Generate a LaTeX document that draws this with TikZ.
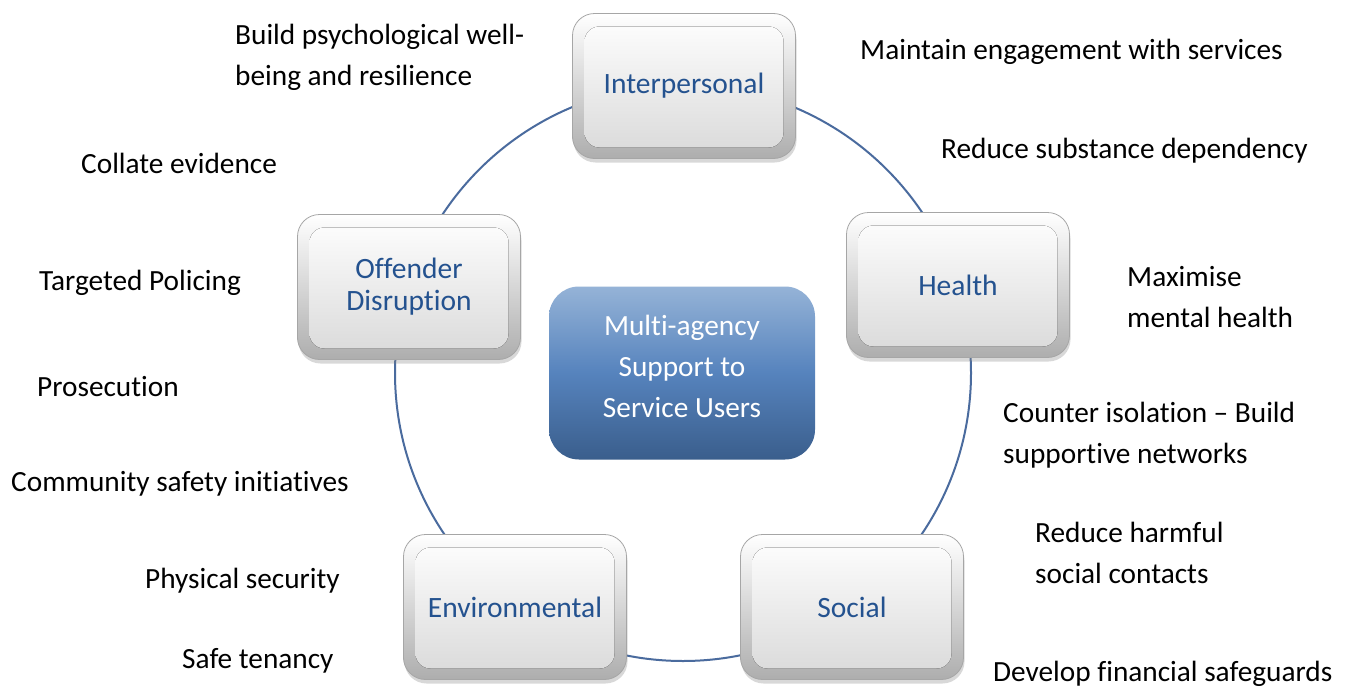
\documentclass[tikz,border=0pt]{standalone}
\usepackage{fontspec}
\setmainfont{Carlito}[Ligatures=NoCommon]
\usetikzlibrary{shadows}
\definecolor{ringc}{HTML}{4A6B9E}
\definecolor{boxtxt}{HTML}{24528F}
\definecolor{ctop}{HTML}{95B3D7}
\definecolor{cmid}{HTML}{5683BD}
\definecolor{cbot}{HTML}{3A5E8C}
\tikzset{
  bev/.style={rounded corners=22pt, minimum width=223pt, minimum height=145pt,
    draw=black!35, line width=0.8pt, top color=white, bottom color=black!32,
    drop shadow={opacity=0.3, shadow xshift=1pt, shadow yshift=-4pt},
    text=boxtxt, align=center, font=\fontsize{29.5}{32}\selectfont,
    path picture={\fill[rounded corners=15pt, top color=white, bottom color=black!15]
      ([shift={(12pt,11pt)}]path picture bounding box.south west) rectangle
      ([shift={(-12pt,-13pt)}]path picture bounding box.north east);}},
  hubbox/.style={rounded corners=30pt, minimum width=266pt, minimum height=173pt,
    top color=ctop, bottom color=cbot, middle color=cmid, draw=none},
  hubtext/.style={text=white, align=center, inner sep=0pt,
    font=\fontsize{29.3}{41}\selectfont},
  note/.style={anchor=base west, align=left, inner sep=0pt,
    font=\fontsize{29.3}{41}\selectfont},
  ring/.style={draw=ringc, line width=2pt}
}
\begin{document}
\begin{tikzpicture}[x=1pt,y=-1pt]
\useasboundingbox (0,0) rectangle (1347,688);
\fill[white] (0,0) rectangle (1347,688);
\coordinate (o) at (683,373);
\draw[ring] (o) circle[radius=288pt];
\node[hubbox] (hub) at (682,373) {};
\node[hubtext] (hubt) at (682,366) {Multi-agency\\Support to\\Service Users};
\node[bev] (inter) at (684,86) {Interpersonal};
\node[bev] (health) at (958,285) {Health};
\node[bev] (social) at (852,607) {Social};
\node[bev] (env) at (515,607) {Environmental};
\node[bev] (off) at (409,287) {Offender\\Disruption};
\node[note] (t1) at (235,85) {Build psychological well-\\being and resilience};
\node[note] (t2) at (860,59) {Maintain engagement with services};
\node[note] (t3) at (81,173) {Collate evidence};
\node[note] (t4) at (941,158) {Reduce substance dependency};
\node[note] (t5) at (39,290) {Targeted Policing};
\node[note] (t6) at (1127,327) {Maximise\\mental health};
\node[note] (t7) at (37,396) {Prosecution};
\node[note] (t8) at (1003,463) {Counter isolation – Build\\supportive networks};
\node[note] (t9) at (11,491) {Community safety initiatives};
\node[note] (t10) at (1035,583) {Reduce harmful\\social contacts};
\node[note] (t11) at (145,588) {Physical security};
\node[note] (t12) at (182,668) {Safe tenancy};
\node[note] (t13) at (993,681) {Develop financial safeguards};
\end{tikzpicture}
\end{document}
